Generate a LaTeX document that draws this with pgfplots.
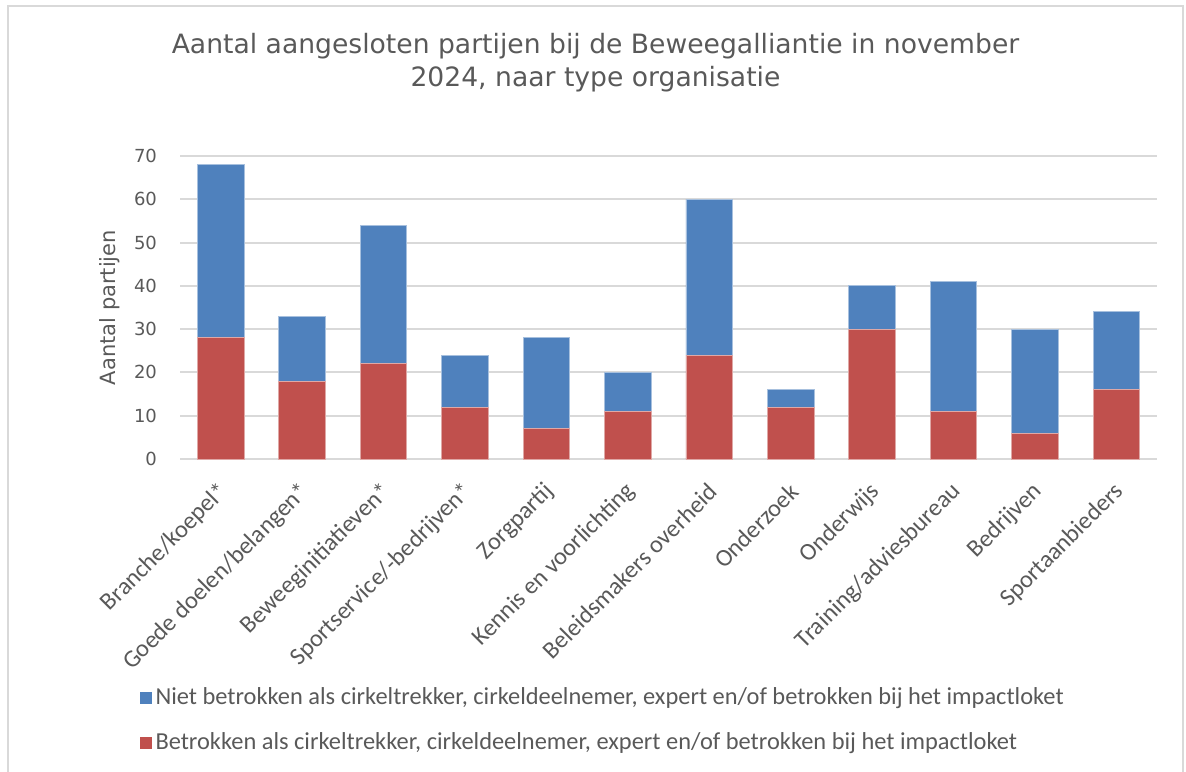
\documentclass[border=0pt]{standalone}
\usepackage{pgfplots}
\pgfplotsset{compat=1.18}
\usepackage{fontspec}
\setmainfont{DejaVu Sans}
\newfontfamily\calfont{Carlito}
\definecolor{txt}{HTML}{595959}
\definecolor{blu}{HTML}{4F81BD}
\definecolor{rd}{HTML}{C0504D}
\definecolor{grd}{HTML}{D9D9D9}
\begin{document}
\begin{tikzpicture}
\useasboundingbox (0,0) rectangle (593pt,-385.5pt);
\draw[grd, line width=0.8pt] (4pt,-3pt) rectangle (591.5pt,-395pt);
\node[align=center, font=\fontsize{13.3}{16.3}\selectfont, text=txt] at (297.75pt,-31.3pt)
  {Aantal aangesloten partijen bij de Beweegalliantie in november\\2024, naar type organisatie};
\begin{axis}[at={(90pt,-229.5pt)}, anchor=south west, scale only axis,
  width=488.5pt, height=151.5pt,
  ybar stacked, bar width=23.3pt,
  xmin=-0.5, xmax=11.5, ymin=0, ymax=70, ytick={0,10,...,70},
  xtick={0,...,11},
  xticklabels={Branche/koepel*, Goede doelen/belangen*, Beweeginitiatieven*, Sportservice/-bedrijven*, Zorgpartij, Kennis en voorlichting, Beleidsmakers overheid, Onderzoek, Onderwijs, Training/adviesbureau, Bedrijven, Sportaanbieders},
  ymajorgrids, grid style={grd, line width=1pt},
  axis x line*=bottom, axis y line*=left,
  x axis line style={grd, line width=1pt, -}, y axis line style={draw=none},
  major tick length=0pt,
  /pgf/number format/assume math mode=true,
  yticklabel style={font=\fontsize{9}{10}\selectfont, text=txt, xshift=-8pt},
  xticklabel style={font=\calfont\fontsize{12.2}{14}\selectfont, text=txt, rotate=45, anchor=east, xshift=-5.4pt, yshift=-11.5pt},
  ylabel={Aantal partijen},
  every axis y label/.style={at={(rel axis cs:-0.0716,0.5)}, rotate=90, anchor=center, font=\fontsize{10.5}{12}\selectfont, text=txt},
  reverse legend,
  legend image code/.code={\path[#1, draw=none] (0pt,-3pt) rectangle (6pt,3pt);},
  legend style={at={(rel axis cs:-0.048,-0.728)}, anchor=north west, draw=none, fill=none,
    font=\calfont\fontsize{12.2}{14}\selectfont, text=txt, row sep=8.5pt, legend cell align=left},
]
\addplot[fill=rd, draw=rd!50!white, line width=0.4pt] coordinates {(0,28) (1,18) (2,22) (3,12) (4,7) (5,11) (6,24) (7,12) (8,30) (9,11) (10,6) (11,16)};
\addplot[fill=blu, draw=blu!50!white, line width=0.4pt] coordinates {(0,40) (1,15) (2,32) (3,12) (4,21) (5,9) (6,36) (7,4) (8,10) (9,30) (10,24) (11,18)};
\legend{Betrokken als cirkeltrekker{,} cirkeldeelnemer{,} expert en/of betrokken bij het impactloket, Niet betrokken als cirkeltrekker{,} cirkeldeelnemer{,} expert en/of betrokken bij het impactloket}
\end{axis}
\end{tikzpicture}
\end{document}
